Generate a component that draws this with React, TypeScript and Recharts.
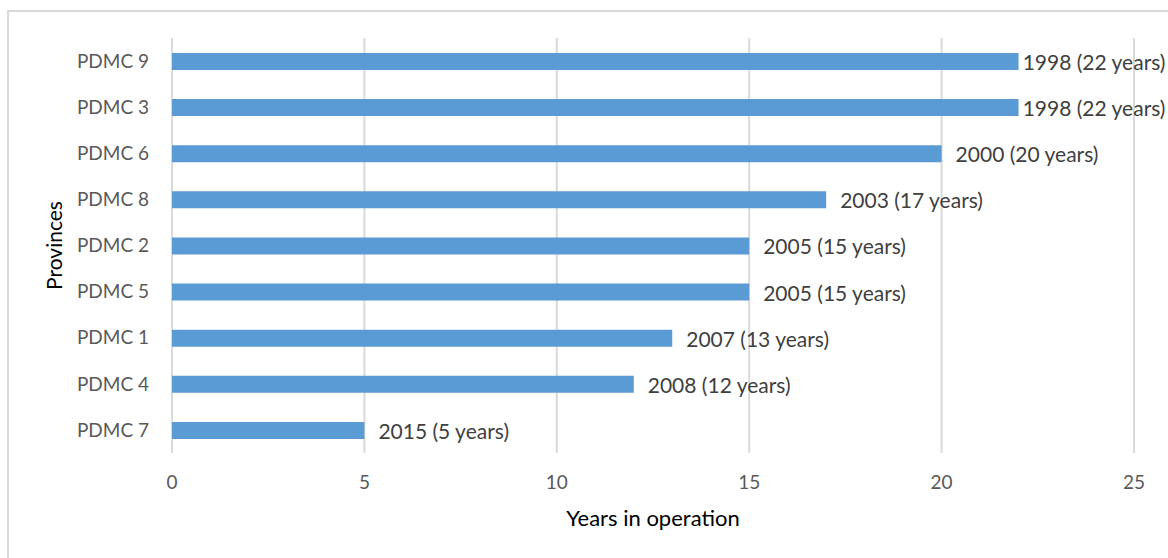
import React from "react";
import {
  BarChart,
  Bar,
  XAxis,
  YAxis,
  CartesianGrid,
  LabelList,
  Label,
} from "recharts";

const provinces = [
  "PDMC 9",
  "PDMC 3",
  "PDMC 6",
  "PDMC 8",
  "PDMC 2",
  "PDMC 5",
  "PDMC 1",
  "PDMC 4",
  "PDMC 7",
];
const yearsInOperation = [22, 22, 20, 17, 15, 15, 13, 12, 5];
const startYears = [1998, 1998, 2000, 2003, 2005, 2005, 2007, 2008, 2015];
const xTicks = [0, 5, 10, 15, 20, 25];

const CHART_W = 1168;
const CHART_H = 558;
const FONT = "Lato, 'Open Sans', sans-serif";
const BAR_COLOR = "#5B9BD5";
const GRID_COLOR = "#d9d9d9";
const LABEL_SIZE = 21;

const chartData = provinces.map((province, i) => ({
  province,
  years: yearsInOperation[i],
  label: `${startYears[i]} (${yearsInOperation[i]} years)`,
}));

let measureCtx: CanvasRenderingContext2D | null = null;
function textWidth(text: string, font: string): number {
  if (!measureCtx && typeof document !== "undefined") {
    measureCtx = document.createElement("canvas").getContext("2d");
  }
  if (!measureCtx) return text.length * 10;
  measureCtx.font = font;
  return measureCtx.measureText(text).width;
}

// Excel-style label: sits right of the bar, pulled back if it would run off the chart
function BarEndLabel(props: any) {
  const { x, y, width, height, value } = props;
  const text = String(value);
  const w = textWidth(text, `${LABEL_SIZE}px Lato`);
  let lx = Number(x) + Number(width) + 14;
  if (lx + w > CHART_W - 2) {
    lx = Math.max(Number(x) + Number(width) + 4, CHART_W - 2 - w);
  }
  return (
    <text
      x={lx}
      y={Number(y) + Number(height) / 2}
      fill="#404040"
      fontSize={LABEL_SIZE}
      fontFamily={FONT}
      dominantBaseline="central"
    >
      {text}
    </text>
  );
}

export default function App() {
  return (
    <div
      style={{
        position: "absolute",
        left: 0,
        top: 0,
        width: CHART_W,
        height: CHART_H,
        background: "#fff",
        overflow: "hidden",
        fontFamily: FONT,
      }}
    >
      <div
        style={{
          position: "absolute",
          left: 7,
          top: 10,
          width: 1200,
          height: 600,
          border: `2px solid ${GRID_COLOR}`,
        }}
      />
      <div style={{ position: "absolute", left: 0, top: 0 }}>
        <BarChart
          width={CHART_W}
          height={CHART_H}
          data={chartData}
          layout="vertical"
          margin={{ top: 38, right: 34, bottom: 0, left: 0 }}
        >
          <CartesianGrid
            horizontal={false}
            stroke={GRID_COLOR}
            strokeWidth={2}
          />
          <XAxis
            type="number"
            domain={[0, 25]}
            ticks={xTicks}
            axisLine={false}
            tickLine={false}
            tickSize={0}
            tickMargin={23}
            height={105}
            tick={{ fill: "#595959", fontSize: 19, fontFamily: FONT }}
          >
            <Label
              value="Years in operation"
              position="insideBottom"
              offset={32}
              fill="#000"
              fontSize={22}
              fontFamily={FONT}
            />
          </XAxis>
          <YAxis
            type="category"
            dataKey="province"
            width={172}
            axisLine={false}
            tickLine={false}
            tickSize={0}
            tickMargin={23}
            tick={{ fill: "#595959", fontSize: 19, fontFamily: FONT }}
          >
            <Label
              value="Provinces"
              angle={-90}
              position="insideLeft"
              offset={55}
              fill="#000"
              fontSize={21}
              fontFamily={FONT}
              style={{ textAnchor: "middle" }}
            />
          </YAxis>
          <Bar
            dataKey="years"
            fill={BAR_COLOR}
            barSize={17}
            isAnimationActive={false}
          >
            <LabelList dataKey="label" content={BarEndLabel} />
          </Bar>
        </BarChart>
      </div>
    </div>
  );
}
